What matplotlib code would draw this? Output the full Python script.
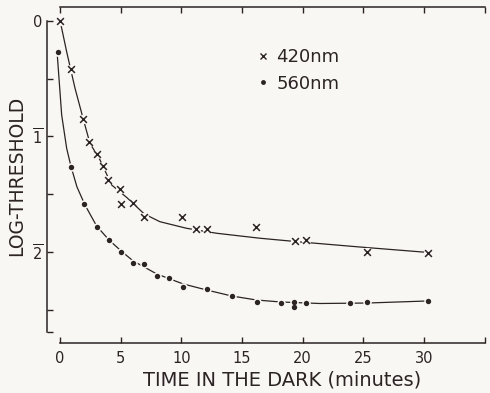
import matplotlib
matplotlib.use("Agg")
import matplotlib.pyplot as plt
from matplotlib.lines import Line2D

# 420 nm (crosses)
t_420 = [0.0, 0.88, 1.92, 2.39, 3.02, 3.52, 3.93, 4.95, 5.03, 6.04, 6.95,
         10.03, 11.18, 12.14, 16.15, 19.37, 20.25, 25.27, 30.33]
y_420 = [0.0, -0.42, -0.85, -1.045, -1.154, -1.255, -1.377, -1.455, -1.587, -1.573, -1.694,
         -1.694, -1.803, -1.803, -1.781, -1.905, -1.896, -1.997, -2.011]

# 560 nm (dots)
t_560 = [-0.15, 0.91, 2.0, 3.02, 4.04, 5.07, 6.04, 6.95, 7.97, 9.01, 10.11,
         12.14, 14.15, 16.21, 18.21, 19.29, 19.29, 20.25, 23.9, 25.33, 30.33]
y_560 = [-0.271, -1.261, -1.584, -1.786, -1.896, -1.997, -2.098, -2.106, -2.208, -2.221, -2.306,
         -2.32, -2.381, -2.43, -2.439, -2.43, -2.474, -2.439, -2.439, -2.435, -2.424]

# hand drawn curves through the points
ct_420 = [0.0, 0.14, 0.55, 1.24, 1.92, 2.47, 3.30, 4.26, 5.50, 6.95, 8.24,
          10.44, 12.92, 16.48, 19.78, 24.73, 30.33]
cy_420 = [0.0, -0.063, -0.266, -0.583, -0.85, -1.059, -1.203, -1.42, -1.528, -1.671, -1.738,
          -1.795, -1.838, -1.881, -1.913, -1.957, -2.004]

ct_560 = [-0.21, 0.14, 0.55, 0.91, 1.40, 2.06, 3.02, 4.04, 5.09, 6.04, 7.01, 7.97,
          9.07, 10.16, 12.09, 14.15, 16.21, 18.21, 21.43, 25.30, 30.33]
cy_560 = [-0.312, -0.814, -1.102, -1.261, -1.437, -1.593, -1.775, -1.896, -1.996, -2.078, -2.134, -2.190,
          -2.234, -2.277, -2.329, -2.381, -2.416, -2.433, -2.446, -2.442, -2.424]

x_ticks = [0, 5, 10, 15, 20, 25, 30, 35]
x_labels = ["0", "5", "10", "15", "20", "25", "30", ""]
y_ticks = [0, -0.5, -1, -1.5, -2, -2.5, -2.69]
y_labels = ["0", "", r"$\overline{1}$", "", r"$\overline{2}$", "", ""]

ink = "#2b2324"
bg = "#f9f7f4"

plt.rcParams["font.family"] = ["DejaVu Sans"]
plt.rcParams["mathtext.fontset"] = "dejavusans"

fig = plt.figure(figsize=(4.9, 3.93), dpi=100, facecolor=bg)
ax = fig.add_axes([47 / 490, 50 / 393, 442 / 490, 336 / 393])
ax.set_facecolor(bg)

ax.plot(ct_420, cy_420, color=ink, lw=0.9, zorder=1)
ax.plot(ct_560, cy_560, color=ink, lw=0.9, zorder=1)

# gaps in the line around each mark
ax.scatter(t_420, y_420, s=45, color=bg, zorder=2, linewidths=0)
ax.scatter(t_560, y_560, s=38, color=bg, zorder=2, linewidths=0)

ax.scatter(t_420, y_420, marker="x", s=24, color=ink, linewidths=1.1, zorder=3)
ax.scatter(t_560, y_560, marker="o", s=15, color=ink, linewidths=0, zorder=3)

ax.set_xlim(-1.07, 35.36)
ax.set_ylim(-2.788, 0.121)

for s in ["left", "bottom", "top"]:
    ax.spines[s].set_color(ink)
    ax.spines[s].set_linewidth(1.1)
ax.spines["right"].set_visible(False)
ax.spines["left"].set_bounds(-2.69, 0)
ax.spines["bottom"].set_bounds(0, 35)
ax.spines["top"].set_bounds(0, 35)

ax.set_xticks(x_ticks)
ax.set_xticklabels(x_labels)
ax.set_yticks(y_ticks)
ax.set_yticklabels(y_labels)
ax.tick_params(axis="x", direction="in", length=4, width=1.0, color=ink,
               top=True, labelsize=10.5, labelcolor=ink, pad=6)
ax.tick_params(axis="y", direction="in", length=4, width=1.0, color=ink,
               labelsize=10.5, labelcolor=ink, pad=3)

fig.text(282 / 490, 1 - 380 / 393, "TIME IN THE DARK (minutes)", ha="center", va="center",
         fontsize=14, color=ink)
fig.text(17 / 490, 1 - 176 / 393, "LOG-THRESHOLD", ha="center", va="center",
         rotation=90, fontsize=13.5, color=ink)

handles = [Line2D([], [], ls="none", marker="x", ms=4, mew=1.0, color=ink),
           Line2D([], [], ls="none", marker="o", ms=3.5, mew=0, color=ink)]
ax.legend(handles, ["420nm", "560nm"], loc="upper left",
          bbox_to_anchor=((249 - 47) / 442, (343 - 39) / 336), frameon=False,
          fontsize=13, handlelength=0.6, handletextpad=0.4, labelspacing=0.47,
          borderpad=0, labelcolor=ink)

fig.savefig("out.png", dpi=100, facecolor=bg)
